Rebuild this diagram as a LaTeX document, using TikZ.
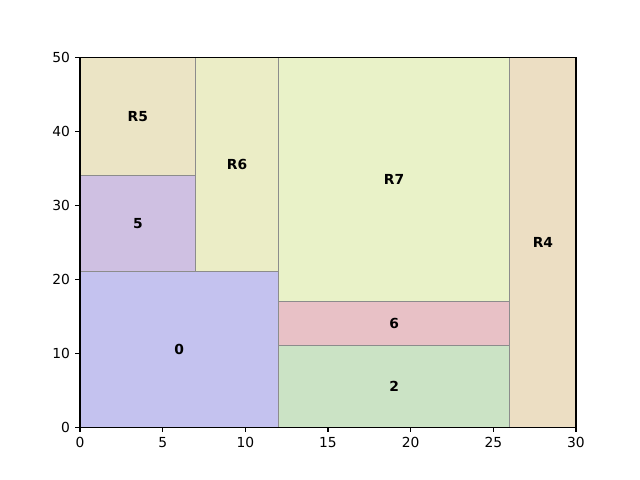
\documentclass[tikz,border=0pt]{standalone}
\usepackage{fontspec}
\setmainfont{DejaVu Sans}
\usepackage{xcolor}
\usetikzlibrary{positioning}

\definecolor{cZero}{HTML}{C4C2EF}
\definecolor{cFive}{HTML}{CFC0E2}
\definecolor{cRFive}{HTML}{EBE4C5}
\definecolor{cRSix}{HTML}{EBEDC6}
\definecolor{cRSeven}{HTML}{E9F2C8}
\definecolor{cSix}{HTML}{E8C1C6}
\definecolor{cTwo}{HTML}{CBE3C5}
\definecolor{cRFour}{HTML}{ECDEC3}

\begin{document}
\begin{tikzpicture}[
  x=0.41995cm, y=0.18776cm,
  font=\fontsize{10}{12}\selectfont,
  region/.style={draw=gray!90, line width=0.72pt},
  regionlabel/.style={font=\fontsize{10}{12}\selectfont\bfseries, inner sep=0pt},
  spine/.style={line width=0.8pt},
  tick/.style={line width=0.8pt},
  ticklabel/.style={inner sep=0pt},
]
  \useasboundingbox (-4.8387,-7.1429) rectangle (33.871,57.792);

  % Regions: name/x0/y0/x1/y1/colour/label
  \foreach \n/\xa/\ya/\xb/\yb/\c/\t in {
      zero/0/0/12/21/cZero/0,
      five/0/21/7/34/cFive/5,
      rfive/0/34/7/50/cRFive/R5,
      rsix/7/21/12/50/cRSix/R6,
      rseven/12/17/26/50/cRSeven/R7,
      six/12/11/26/17/cSix/6,
      two/12/0/26/11/cTwo/2,
      rfour/26/0/30/50/cRFour/R4} {
    \filldraw [region, fill=\c] (\xa,\ya) rectangle (\xb,\yb);
    \node (\n) [regionlabel] at ({(\xa+\xb)/2},{(\ya+\yb)/2}) {\t};
  }

  % Axes frame
  \draw [spine] (0,0) rectangle (30,50);

  % Ticks
  \foreach \v in {0,5,...,30} {
    \draw [tick] (\v,0) -- ++(0,-3.5pt);
    \node (xt\v) [ticklabel, anchor=north] at ([yshift=-7pt]\v,0) {\v};
  }
  \foreach \v in {0,10,...,50} {
    \draw [tick] (0,\v) -- ++(-3.5pt,0);
    \node (yt\v) [ticklabel, anchor=east] at ([xshift=-7pt]0,\v) {\v};
  }
\end{tikzpicture}
\end{document}
